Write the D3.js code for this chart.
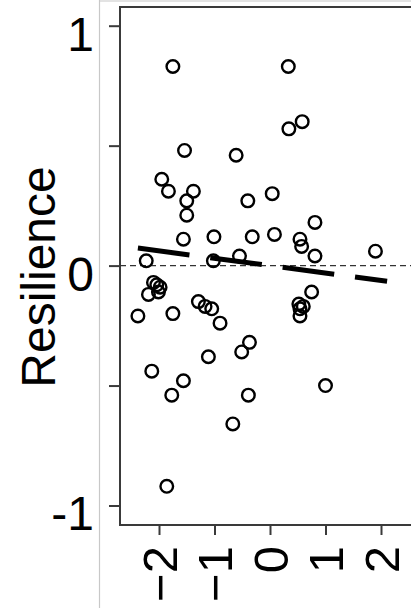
<!DOCTYPE html>
<html lang='en'>
	<head>
		<meta charset='utf-8'>
		<title>Resilience</title>
		<style>
			html, body { margin: 0; padding: 0; background: #fff; }
			svg { display: block; }
			text { font-family: 'Liberation Sans', Arial, sans-serif; fill: #000; }
		</style>
		<script src="https://d3js.org/d3.v7.min.js"></script>
	</head>
	<body>
		<div class='visHolder'></div>
		<script>
			// points
			var xValues = [-1.75, 0.33, 0.58, 0.34, -1.54, -0.61, -1.95, -1.83, -1.38, -1.50,
				-0.40, 0.04, -1.50, 0.81, -1.56, -1.01, -0.32, 0.08, 0.54, 0.57,
				0.81, 1.90, -2.23, -1.02, -0.55, -2.10, -2.04, -1.98, -2.19, -2.01,
				0.75, -2.38, -1.75, -1.29, -1.17, -1.05, -0.90, 0.52, 0.54, 0.60,
				0.54, -0.37, -0.51, -1.11, -2.13, -1.56, -1.77, -0.39, 1.00, -0.67, -1.86];
			var yValues = [0.83, 0.83, 0.60, 0.57, 0.48, 0.46, 0.36, 0.31, 0.31, 0.27,
				0.27, 0.30, 0.21, 0.18, 0.11, 0.12, 0.12, 0.13, 0.11, 0.08,
				0.04, 0.06, 0.02, 0.02, 0.04, -0.07, -0.08, -0.09, -0.12, -0.11,
				-0.11, -0.21, -0.20, -0.15, -0.17, -0.18, -0.24, -0.16, -0.18, -0.17,
				-0.21, -0.32, -0.36, -0.38, -0.44, -0.48, -0.54, -0.54, -0.50, -0.66, -0.92];

			// fitted line ends
			var fitX = [-2.38, 2.11];
			var fitY = [0.073, -0.065];

			var xTicks = [-2, -1, 0, 1, 2];
			var xTickLabels = ['\u22122', '\u22121', '0', '1', '2'];
			var yTicks = [-1, -0.5, 0, 0.5, 1];
			var yTickLabels = {'-1': '-1', '0': '0', '1': '1'};

			var width = 411,
					height = 608,
					boxLeft = 120,
					boxTop = 7,
					boxBottom = 525;

			var svg = d3.select('.visHolder')
				.append('svg')
				.attr('width', width)
				.attr('height', height);

			var xScale = d3.scaleLinear()
				.domain([-2, 2])
				.range([159, 381]);

			var yScale = d3.scaleLinear()
				.domain([-1, 1])
				.range([505.5, 25.7]);

			// grey frame around the panel
			svg.append('line')
				.attr('x1', 99.5).attr('x2', 99.5)
				.attr('y1', 0).attr('y2', height)
				.attr('stroke', '#c8c8c8')
				.attr('stroke-width', 1.2);
			svg.append('line')
				.attr('x1', 99.5).attr('x2', width)
				.attr('y1', 1).attr('y2', 1)
				.attr('stroke', '#c8c8c8')
				.attr('stroke-width', 1.2);

			// plot box
			svg.append('path')
				.attr('d', 'M' + width + ',' + boxTop + 'H' + boxLeft + 'V' + boxBottom + 'H' + width)
				.attr('fill', 'none')
				.attr('stroke', '#3a3a3a')
				.attr('stroke-width', 2);

			// zero line
			svg.append('line')
				.attr('x1', boxLeft).attr('x2', width)
				.attr('y1', yScale(0)).attr('y2', yScale(0))
				.attr('stroke', '#333')
				.attr('stroke-width', 1.4)
				.attr('stroke-dasharray', '6,4');

			// axes
			var yAxis = d3.axisLeft(yScale)
				.tickValues(yTicks)
				.tickSize(11)
				.tickFormat(function(d) { return ''; });

			var yAxisGroup = svg.append('g')
				.attr('id', 'y-axis')
				.attr('transform', 'translate(' + boxLeft + ', 0)')
				.call(yAxis);
			yAxisGroup.select('.domain').remove();
			yAxisGroup.selectAll('line').attr('stroke', '#3a3a3a').attr('stroke-width', 2);

			var xAxis = d3.axisBottom(xScale)
				.tickValues(xTicks)
				.tickSize(10)
				.tickFormat(function(d) { return ''; });

			var xAxisGroup = svg.append('g')
				.attr('id', 'x-axis')
				.attr('transform', 'translate(0, ' + boxBottom + ')')
				.call(xAxis);
			xAxisGroup.select('.domain').remove();
			xAxisGroup.selectAll('line').attr('stroke', '#3a3a3a').attr('stroke-width', 2);

			// tick labels
			svg.selectAll('.ylab')
				.data(yTicks.filter(function(d) { return yTickLabels[d] !== undefined; }))
				.enter()
				.append('text')
				.attr('class', 'ylab')
				.attr('x', 94)
				.attr('y', function(d) { return yScale(d); })
				.attr('dy', '0.52em')
				.attr('text-anchor', 'end')
				.style('font-size', '48px')
				.text(function(d) { return yTickLabels[d]; });

			svg.selectAll('.xlab')
				.data(xTicks)
				.enter()
				.append('text')
				.attr('class', 'xlab')
				.attr('transform', function(d) {
					return 'translate(' + xScale(d) + ', 546) rotate(-90)';
				})
				.attr('dy', '0.36em')
				.attr('text-anchor', 'end')
				.style('font-size', '49px')
				.text(function(d, i) { return xTickLabels[i]; });

			svg.append('text')
				.attr('transform', 'translate(55, 277) rotate(-90)')
				.attr('text-anchor', 'middle')
				.style('font-size', '48px')
				.text('Resilience');

			// fitted line
			svg.append('line')
				.attr('x1', xScale(fitX[0])).attr('x2', xScale(fitX[1]))
				.attr('y1', yScale(fitY[0])).attr('y2', yScale(fitY[1]))
				.attr('stroke', '#000')
				.attr('stroke-width', 5)
				.attr('stroke-dasharray', '52,21');

			// points
			svg.selectAll('circle')
				.data(xValues)
				.enter()
				.append('circle')
				.attr('cx', function(d) { return xScale(d); })
				.attr('cy', function(d, i) { return yScale(yValues[i]); })
				.attr('r', 6.3)
				.attr('fill', 'none')
				.attr('stroke', '#000')
				.attr('stroke-width', 2.4);
		</script>
	</body>
</html>
